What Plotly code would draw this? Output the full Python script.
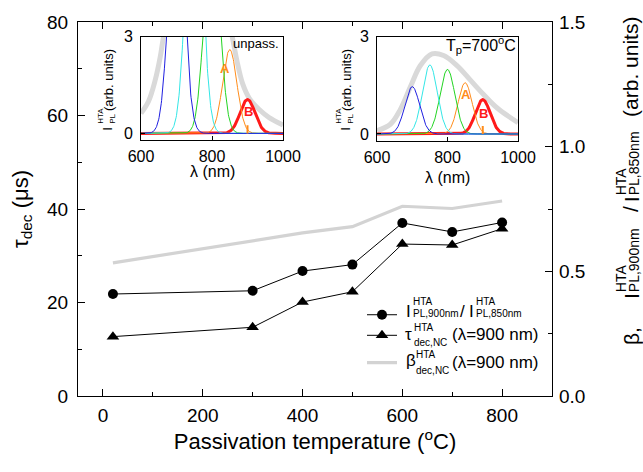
import numpy as np
import plotly.graph_objects as go

# ---------------- main panel data ----------------
temp_c = [20, 300, 400, 500, 600, 700, 800]
ratio_900_850 = [0.409, 0.422, 0.501, 0.527, 0.694, 0.658, 0.696]   # right axis
tau_dec_us = [12.7, 14.7, 20.1, 22.3, 32.5, 32.3, 35.8]            # left axis (μs)
beta_dec = [0.534, 0.623, 0.654, 0.679, 0.761, 0.752, 0.782]        # right axis

x_ticks = [0, 200, 400, 600, 800]
y_left_ticks = [0, 20, 40, 60, 80]
y_right_ticks = [0.0, 0.5, 1.0, 1.5]

# ---------------- inset data (Gaussian components) ----------------
peak_nm = [700, 750, 800, 850, 900]
peak_sigma_nm = [21, 21, 21, 20, 21]
peak_colors = ["#1f1fe0", "#33e6e6", "#22d422", "#ff8c1a", "#ff1a1a"]
peak_widths = [1, 1, 1, 1, 3]
height_unpass = [7.5, 9.5, 6.5, 2.6, 1.05]
height_700 = [1.46, 2.13, 1.99, 1.58, 1.06]

env_lam_unpass = [600, 621, 640, 654, 663, 700, 750, 800, 845, 857, 872, 886, 905, 933, 961, 1000]
env_int_unpass = [0.62, 0.99, 1.65, 2.36, 2.97, 5.0, 6.0, 5.2, 3.6, 3.0, 2.16, 1.55, 1.09, 0.74, 0.49, 0.26]
env_lam_700 = [600, 638, 666, 695, 723, 756, 789, 827, 865, 903, 941, 1000]
env_int_700 = [0.10, 0.30, 0.75, 1.46, 2.11, 2.47, 2.42, 2.11, 1.66, 1.21, 0.80, 0.35]

marker_lam = [900, 900]
marker_int = [0.0, 0.25]

lam_ticks = [600, 800, 1000]
inset_y_ticks = [0, 3]

FONT = "Liberation Sans, Arial, sans-serif"
W, H = 643, 472
L, R, T, B = 78, 91, 14, 76
PW, PH = W - L - R, H - T - B


def px(x):
    return (x - L) / PW


def py(y):
    return (H - B - y) / PH


fig = go.Figure()

# main traces
fig.add_trace(go.Scatter(x=temp_c, y=beta_dec, yaxis="y2", mode="lines",
                         line=dict(color="#d3d3d3", width=3.2),
                         name=" ", legend="legend3"))
fig.add_trace(go.Scatter(x=temp_c, y=ratio_900_850, yaxis="y2", mode="lines+markers",
                         line=dict(color="black", width=1),
                         marker=dict(symbol="circle", size=10, color="black"),
                         name=" ", legend="legend"))
fig.add_trace(go.Scatter(x=temp_c, y=tau_dec_us, yaxis="y", mode="lines+markers",
                         line=dict(color="black", width=1),
                         marker=dict(symbol="triangle-up", size=11, color="black"),
                         name=" ", legend="legend2"))

# insets
lam = np.linspace(600, 1000, 401)
for xa, ya, heights, env_l, env_i in [("x3", "y3", height_unpass, env_lam_unpass, env_int_unpass),
                                      ("x4", "y4", height_700, env_lam_700, env_int_700)]:
    fig.add_trace(go.Scatter(x=env_l, y=env_i, xaxis=xa, yaxis=ya, mode="lines",
                             line=dict(color="#d9d9d9", width=5, shape="spline", smoothing=1.0),
                             showlegend=False))
    for i in [4, 3, 2, 1, 0]:
        g = heights[i] * np.exp(-0.5 * ((lam - peak_nm[i]) / peak_sigma_nm[i]) ** 2)
        fig.add_trace(go.Scatter(x=lam, y=g, xaxis=xa, yaxis=ya, mode="lines",
                                 line=dict(color=peak_colors[i], width=peak_widths[i]),
                                 showlegend=False))
    fig.add_trace(go.Scatter(x=marker_lam, y=marker_int, xaxis=xa, yaxis=ya, mode="lines",
                             line=dict(color="#ff8c1a", width=2), showlegend=False))

axis_common = dict(showline=True, linecolor="black", linewidth=1.3, ticks="inside",
                   tickcolor="black", tickwidth=1.3, showgrid=False, zeroline=False,
                   tickfont=dict(family=FONT, size=19, color="black"))

inset_common = dict(showline=True, linecolor="black", linewidth=1, ticks="inside",
                    tickcolor="black", tickwidth=1, ticklen=4, showgrid=False, zeroline=False,
                    mirror=True, tickfont=dict(family=FONT, size=16, color="black"))

fig.update_layout(
    width=W, height=H, autosize=False,
    margin=dict(l=L, r=R, t=T, b=B, pad=0),
    paper_bgcolor="white", plot_bgcolor="white",
    font=dict(family=FONT, color="black"),
    xaxis=dict(axis_common, range=[-50, 900], tickvals=x_ticks, ticklen=7, mirror="ticks",
               minor=dict(dtick=100, tick0=0, ticks="inside", ticklen=4, tickcolor="black"),
               ticklabelstandoff=2,
               title=dict(text="Passivation temperature (<sup>o</sup>C)",
                          font=dict(family=FONT, size=22), standoff=4)),
    yaxis=dict(axis_common, range=[0, 80], tickvals=y_left_ticks, ticklen=7,
               minor=dict(dtick=10, tick0=0, ticks="inside", ticklen=4, tickcolor="black"),
               ticklabelstandoff=5,
               title=dict(text="τ<sub>dec</sub> (μs)", font=dict(family=FONT, size=22), standoff=12)),
    yaxis2=dict(axis_common, overlaying="y", side="right", range=[0, 1.5], tickvals=y_right_ticks,
                tickformat=".1f", ticklen=7,
                minor=dict(dtick=0.25, tick0=0, ticks="inside", ticklen=4, tickcolor="black"),
                ticklabelstandoff=2),
    xaxis3=dict(inset_common, domain=[px(141), px(283)], anchor="y3", range=[600, 1000],
                tickvals=lam_ticks, ticklabelstandoff=1),
    yaxis3=dict(inset_common, domain=[py(135), py(29)], anchor="x3", range=[-0.22, 3.0],
                tickvals=inset_y_ticks, ticklabelstandoff=4),
    xaxis4=dict(inset_common, domain=[px(377), px(518)], anchor="y4", range=[600, 1000],
                tickvals=lam_ticks, ticklabelstandoff=1),
    yaxis4=dict(inset_common, domain=[py(136), py(29)], anchor="x4", range=[-0.23, 3.0],
                tickvals=inset_y_ticks, ticklabelstandoff=4),
    legend=dict(x=px(362), y=py(313), xanchor="left", yanchor="middle", bgcolor="rgba(0,0,0,0)",
                font=dict(size=12), itemwidth=30),
    legend2=dict(x=px(362), y=py(334), xanchor="left", yanchor="middle", bgcolor="rgba(0,0,0,0)",
                 font=dict(size=12), itemwidth=30),
    legend3=dict(x=px(362), y=py(362), xanchor="left", yanchor="middle", bgcolor="rgba(0,0,0,0)",
                 font=dict(size=12), itemwidth=30),
)

ann = []


def txt(text, x, y, size, xanchor="left", yanchor="middle", angle=0, color="black", bold=False):
    if bold:
        text = "<b>" + text + "</b>"
    ann.append(dict(text=text, x=px(x), y=py(y), xref="paper", yref="paper", showarrow=False,
                    xanchor=xanchor, yanchor=yanchor, textangle=angle,
                    font=dict(family=FONT, size=size, color=color), borderpad=0))


# legend texts (stacked super/subscripts)
LF, SF = 17, 10
txt("I", 405, 310, LF)
txt("HTA", 412, 299, SF)
txt("PL,900nm", 412, 312, SF)
txt("/", 459, 310, LF)
txt("I", 468, 310, LF)
txt("HTA", 475, 299, SF)
txt("PL,850nm", 475, 312, SF)

txt("τ", 404, 333, LF)
txt("HTA", 413, 326, SF)
txt("dec,NC", 413, 341, SF)
txt("(λ=900 nm)", 451, 333, LF)

txt("β", 405, 360, LF)
txt("HTA", 415, 354, SF)
txt("dec,NC", 415, 370, SF)
txt("(λ=900 nm)", 451, 362, LF)

# right axis title (rotated, stacked scripts)
TF, TS = 21, 14
txt("β,", 631, 345, TF, xanchor="center", yanchor="bottom", angle=-90)
txt("I", 631, 298, TF, xanchor="center", yanchor="bottom", angle=-90)
txt("HTA", 621, 291, TS, xanchor="center", yanchor="bottom", angle=-90)
txt("PL,900nm", 634, 291, TS, xanchor="center", yanchor="bottom", angle=-90)
txt("/", 631, 209, TF, xanchor="center", yanchor="bottom", angle=-90)
txt("I", 631, 199, TF, xanchor="center", yanchor="bottom", angle=-90)
txt("HTA", 621, 192, TS, xanchor="center", yanchor="bottom", angle=-90)
txt("PL,850nm", 634, 192, TS, xanchor="center", yanchor="bottom", angle=-90)
txt("(arb. units)", 631, 112, TF, xanchor="center", yanchor="bottom", angle=-90)

# inset y titles
for x0 in (108, 346):
    txt("I", x0, 126, 13, xanchor="center", yanchor="bottom", angle=-90)
    txt("HTA", x0 - 7, 119, 8, xanchor="center", yanchor="bottom", angle=-90)
    txt("PL", x0 + 5, 119, 8, xanchor="center", yanchor="bottom", angle=-90)
    txt("(arb. units)", x0, 106, 13, xanchor="center", yanchor="bottom", angle=-90)

# inset x titles
txt("λ (nm)", 212, 167, 16, xanchor="center")
txt("λ (nm)", 447, 173, 16, xanchor="center")

# inset labels
txt("unpass.", 280, 36, 13, xanchor="right")
txt("T<sub>p</sub>=700<sup>o</sup>C", 517, 38, 16, xanchor="right")
txt("A", 225, 61, 13, xanchor="center", color="#ff8c1a", bold=True)
txt("B", 248, 105, 13, xanchor="center", color="#ff1a1a", bold=True)
txt("A", 466, 88, 13, xanchor="center", color="#ff8c1a", bold=True)
txt("B", 483, 107, 13, xanchor="center", color="#ff1a1a", bold=True)

fig.update_layout(annotations=ann)
fig.write_html("out.html")
